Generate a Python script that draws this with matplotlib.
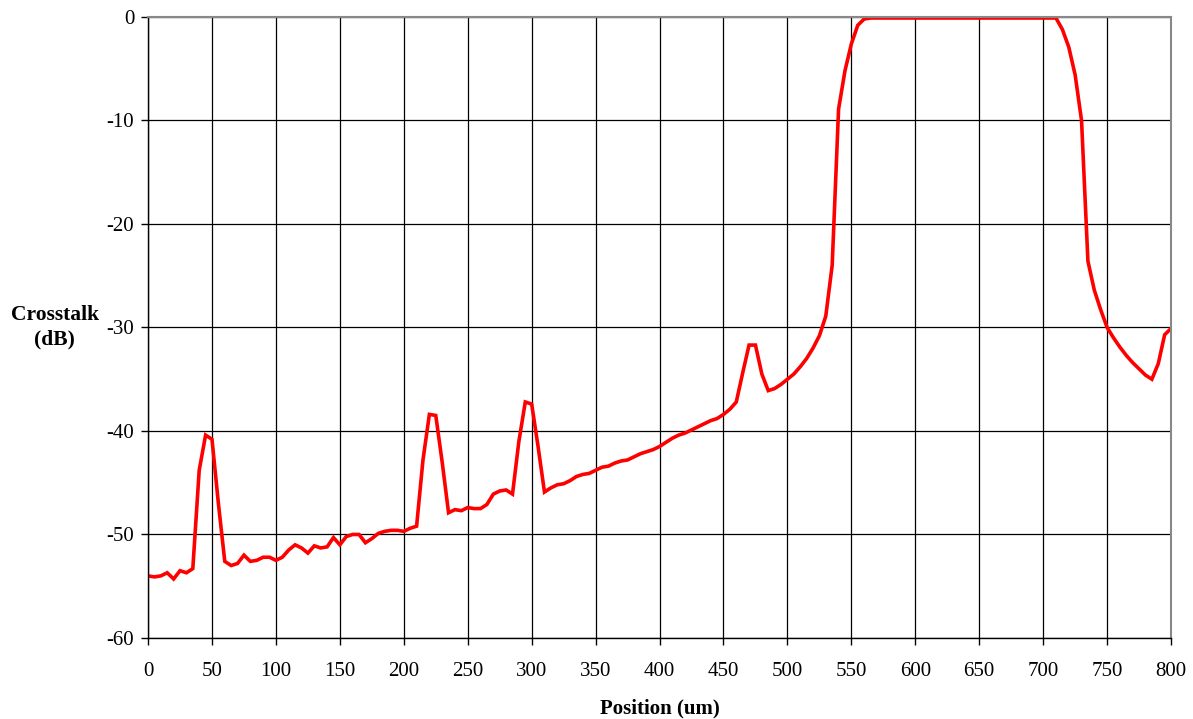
import numpy as np
import matplotlib
matplotlib.use("Agg")
import matplotlib.pyplot as plt

## crosstalk along the device, sampled every 5 um
position = np.arange(0, 805, 5)
crosstalk = [
    -54.0, -54.1, -54.0, -53.7, -54.3, -53.5, -53.7, -53.3, -43.8, -40.4,
    -40.8, -47.0, -52.6, -53.0, -52.8, -52.0, -52.6, -52.5, -52.2, -52.2,
    -52.5, -52.2, -51.5, -51.0, -51.3, -51.8, -51.1, -51.3, -51.2, -50.3,
    -51.0, -50.2, -50.0, -50.0, -50.8, -50.4, -49.9, -49.7, -49.6, -49.6,
    -49.7, -49.4, -49.2, -42.8, -38.4, -38.5, -43.0, -47.9, -47.6, -47.7,
    -47.4, -47.5, -47.5, -47.1, -46.1, -45.8, -45.7, -46.1, -41.0, -37.2,
    -37.4, -41.5, -45.9, -45.5, -45.2, -45.1, -44.8, -44.4, -44.2, -44.1,
    -43.8, -43.5, -43.4, -43.1, -42.9, -42.8, -42.5, -42.2, -42.0, -41.8,
    -41.5, -41.1, -40.7, -40.4, -40.2, -39.9, -39.6, -39.3, -39.0, -38.8,
    -38.4, -37.9, -37.2, -34.4, -31.7, -31.7, -34.5, -36.1, -35.9, -35.5,
    -35.0, -34.5, -33.8, -33.0, -32.0, -30.8, -28.9, -24.0, -8.9, -5.2,
    -2.6, -0.8, -0.2, -0.1, -0.1, -0.1, -0.1, -0.1, -0.1, -0.1,
    -0.1, -0.1, -0.1, -0.1, -0.1, -0.1, -0.1, -0.1, -0.1, -0.1,
    -0.1, -0.1, -0.1, -0.1, -0.1, -0.1, -0.1, -0.1, -0.1, -0.1,
    -0.1, -0.1, -0.1, -1.2, -2.9, -5.6, -10.0, -23.6, -26.4, -28.3,
    -30.0, -31.0, -31.9, -32.7, -33.4, -34.0, -34.6, -35.0, -33.5, -30.7,
    -30.1,
]

xticks = np.arange(0, 850, 50)
yticks = np.arange(-60, 10, 10)

plt.rcParams['font.family'] = ['Liberation Serif', 'DejaVu Serif']
plt.rcParams['axes.unicode_minus'] = False

fig = plt.figure(figsize=(11.93, 7.19), dpi=100)
ax = fig.add_axes([0.1241, 0.1127, 0.8575, 0.8637])

ax.plot(position, crosstalk, color='#ff0000', linewidth=2.6, solid_joinstyle='miter')

ax.set_xlim(0, 800)
ax.set_ylim(-60, 0)
ax.set_xticks(xticks)
ax.set_yticks(yticks)
ax.tick_params(direction='out', length=5, width=1, labelsize=15, color='black')
ax.tick_params(axis='x', pad=12)
ax.tick_params(axis='y', pad=5)
ax.grid(True, color='black', linewidth=0.9)
ax.set_axisbelow(True)

for side in ['left', 'bottom']:
    ax.spines[side].set_color('black')
    ax.spines[side].set_linewidth(1)
for side in ['top', 'right']:
    ax.spines[side].set_color('#888888')
    ax.spines[side].set_linewidth(1.5)

ax.set_xlabel('Position (um)', fontsize=15, fontweight='bold', labelpad=13)
fig.text(0.046, 0.545, 'Crosstalk\n(dB)', fontsize=15.5, fontweight='bold',
         ha='center', va='center', linespacing=1.25)

fig.savefig('out.png', dpi=100)
